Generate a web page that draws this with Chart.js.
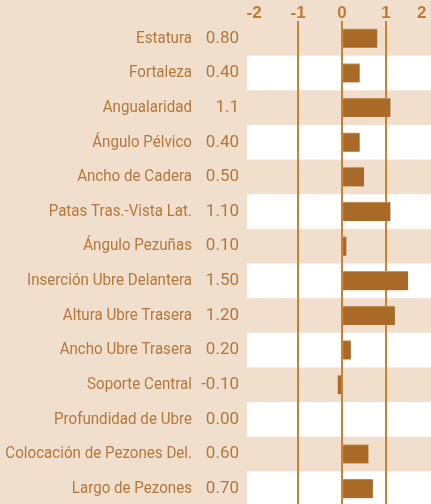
<!DOCTYPE html>
<html><head><meta charset="utf-8">
<script src="https://cdn.jsdelivr.net/npm/chart.js@4"></script>
<style>
html,body{margin:0;padding:0;overflow:hidden;background:#f0dfcc;}
#wrap{position:relative;width:431px;height:506px;}
</style></head>
<body><div id="wrap"><canvas id="c"></canvas></div>
<script>
const categories = ["Estatura","Fortaleza","Angualaridad","Ángulo Pélvico","Ancho de Cadera","Patas Tras.-Vista Lat.","Ángulo Pezuñas","Inserción Ubre Delantera","Altura Ubre Trasera","Ancho Ubre Trasera","Soporte Central","Profundidad de Ubre","Colocación de Pezones Del.","Largo de Pezones"];
const valueLabels = ["0.80","0.40","1.1","0.40","0.50","1.10","0.10","1.50","1.20","0.20","-0.10","0.00","0.60","0.70"];
const values = [0.80,0.40,1.1,0.40,0.50,1.10,0.10,1.50,1.20,0.20,-0.10,0.00,0.60,0.70];
const xTicks = [-2,-1,0,1,2];

const labelColor = '#b5773b';
const stripePlugin = {
  id:'stripes',
  beforeDraw(chart){
    const {ctx, chartArea} = chart;
    const y = chart.scales.y;
    ctx.save();
    ctx.fillStyle = '#ffffff';
    categories.forEach((c,i)=>{
      if(i%2===1){
        const top = y.getPixelForValue(i-0.5);
        const bot = y.getPixelForValue(i+0.5);
        ctx.fillRect(chartArea.left, top, chart.width-chartArea.left, bot-top);
      }
    });
    ctx.restore();
  },
  afterDraw(chart){
    const {ctx} = chart;
    const y = chart.scales.y;
    ctx.save();
    ctx.fillStyle = labelColor;
    ctx.textAlign = 'right';
    ctx.textBaseline = 'middle';
    const sx = 0.89;
    categories.forEach((c,i)=>{
      const py = y.getPixelForValue(i);
      ctx.save();
      ctx.font = '17px Roboto, sans-serif';
      ctx.translate(192, py);
      ctx.scale(sx, 1);
      ctx.fillText(c, 0, 0);
      ctx.restore();
      ctx.font = '17px Roboto, sans-serif';
      ctx.fillText(valueLabels[i], 239, py);
    });
    ctx.restore();
  }
};

new Chart(document.getElementById('c'), {
  type:'bar',
  data:{labels:categories, datasets:[{data:values, backgroundColor:'#a96a27', borderColor:'#c99863', borderWidth:{top:1,bottom:0,left:0,right:0}, borderSkipped:false, barThickness:19}]},
  options:{
    indexAxis:'y', responsive:true, maintainAspectRatio:false, animation:false,
    layout:{padding:{left:247,top:0,right:0,bottom:0}},
    plugins:{legend:{display:false}, tooltip:{enabled:false}},
    scales:{
      x:{position:'top', min:-2.16, max:2.02,
        afterBuildTicks(s){ s.ticks = xTicks.map(v=>({value:v})); },
        afterFit(s){ s.height = 21; s.paddingLeft = 0; s.paddingRight = 0; },
        border:{display:false},
        grid:{drawTicks:false, lineWidth:2, color:(ctx)=> (ctx.tick && Math.abs(ctx.tick.value)<=1) ? '#c8823a' : 'rgba(0,0,0,0)'},
        ticks:{color:'#c27a33', padding:-1, font:{family:'"Liberation Sans", Roboto, sans-serif', size:17, weight:'bold', lineHeight:1}, maxRotation:0, autoSkip:false,
          callback:(v)=> v===2 ? '2\u2002\u2002' : String(v)}
      },
      y:{display:false}
    }
  },
  plugins:[stripePlugin]
});
</script></body></html>
